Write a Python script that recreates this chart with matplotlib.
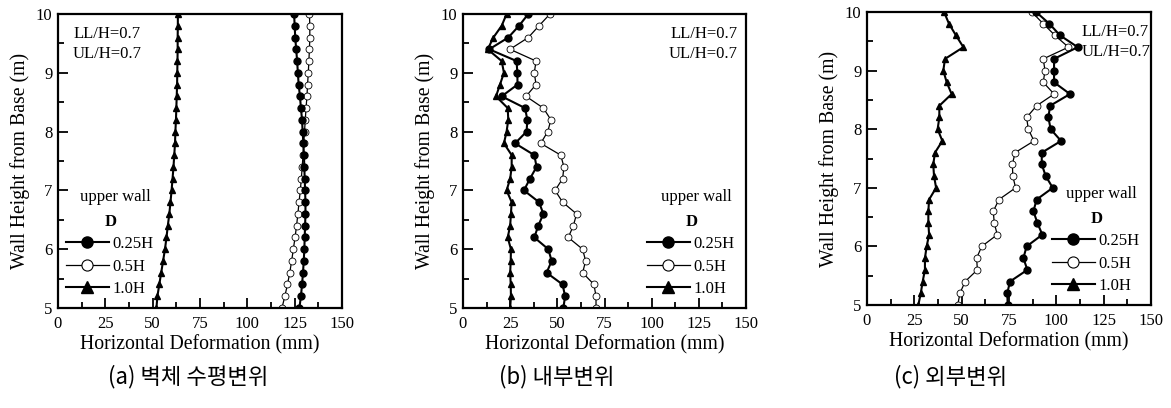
import numpy as np
import matplotlib
matplotlib.use('Agg')
import matplotlib.pyplot as plt
from matplotlib.lines import Line2D

plt.rcParams['font.family'] = ['Liberation Serif', 'DejaVu Serif']

# 높이 (m)
height = [10.0, 9.8, 9.6, 9.4, 9.2, 9.0, 8.8, 8.6, 8.4, 8.2, 8.0, 7.8, 7.6,
          7.4, 7.2, 7.0, 6.8, 6.6, 6.4, 6.2, 6.0, 5.8, 5.6, 5.4, 5.2, 5.0]

# (a) 벽체 수평변위
a_025 = [124.7, 125.0, 125.3, 125.8, 126.3, 126.7, 127.1, 127.8, 128.3, 128.9, 129.2, 129.6, 129.9,
         130.1, 130.3, 130.5, 130.7, 130.7, 130.5, 130.3, 130.1, 129.8, 129.4, 128.9, 128.3, 127.5]
a_05 = [132.8, 133.0, 133.0, 132.8, 132.5, 132.2, 131.8, 131.5, 131.0, 130.6, 130.2, 129.8, 129.4,
        129.0, 128.5, 128.0, 127.3, 126.7, 126.0, 125.2, 124.3, 123.4, 122.4, 121.2, 119.8, 118.3]
a_10 = [63.3, 63.3, 63.2, 63.2, 63.1, 63.0, 62.9, 62.7, 62.5, 62.3, 62.0, 61.8, 61.4,
        61.0, 60.5, 60.0, 59.4, 58.8, 58.0, 57.3, 56.5, 55.5, 54.5, 53.5, 52.5, 52.0]

# (b) 내부변위
b_025 = [34.6, 29.7, 24.0, 13.9, 28.4, 28.8, 28.9, 20.5, 32.9, 34.1, 33.7, 27.6, 37.8,
         39.0, 35.5, 32.3, 40.3, 42.6, 39.9, 37.8, 45.2, 47.0, 44.3, 52.8, 54.1, 53.2]
b_05 = [46.1, 40.3, 34.6, 24.9, 38.7, 37.8, 38.7, 33.4, 42.6, 46.6, 44.9, 41.2, 51.8,
        53.5, 52.8, 48.8, 52.8, 60.2, 58.5, 55.8, 63.4, 65.0, 63.4, 69.4, 70.5, 70.5]
b_10 = [23.1, 20.5, 16.1, 13.1, 20.5, 21.7, 19.6, 17.5, 23.7, 24.0, 23.1, 21.7, 25.8,
        25.8, 25.0, 23.1, 25.8, 25.4, 25.0, 23.7, 25.4, 25.3, 25.0, 25.3, 25.4, 25.0]

# (c) 외부변위
c_025 = [89.3, 96.3, 102.0, 111.3, 98.8, 98.8, 98.8, 107.2, 96.7, 95.8, 97.0, 102.5, 92.3,
         92.3, 94.4, 98.1, 89.6, 87.9, 90.0, 92.6, 84.3, 82.6, 84.7, 75.5, 74.1, 74.3]
c_05 = [87.0, 93.1, 99.3, 106.4, 93.1, 94.0, 93.1, 98.8, 89.6, 84.3, 85.2, 88.2, 78.2,
        76.8, 77.0, 78.5, 69.7, 66.7, 67.2, 68.8, 60.6, 57.9, 58.3, 51.8, 49.1, 47.9]
c_10 = [40.7, 43.3, 47.0, 50.9, 41.2, 40.3, 42.1, 44.7, 38.2, 38.2, 37.3, 39.8, 35.9,
        35.0, 35.4, 36.5, 32.8, 32.4, 32.4, 32.8, 31.5, 30.6, 30.6, 29.4, 28.4, 27.1]

captions = ['(a) 벽체 수평변위', '(b) 내부변위', '(c) 외부변위']
legend_labels = ['0.25H', '0.5H', '1.0H']

# 픽셀 단위 배치
panels = [
    dict(d=(a_025, a_05, a_10), rect=[58, 14, 284, 294], note=(0.053, 'left'),
         leg_x=0.032, cap_x=188),
    dict(d=(b_025, b_05, b_10), rect=[463, 14, 283, 294], note=(0.97, 'right'),
         leg_x=0.654, cap_x=557),
    dict(d=(c_025, c_05, c_10), rect=[867, 12, 284, 293], note=(0.757, 'left'),
         leg_x=0.655, cap_x=951),
]

W, H = 1171, 408
fig = plt.figure(figsize=(W / 100, H / 100), dpi=100)

st025 = dict(color='k', marker='o', ms=5, lw=1.5, mfc='k', mec='k')
st05 = dict(color='k', marker='o', ms=5, lw=0.9, mfc='white', mec='k', mew=0.6)
st10 = dict(color='k', marker='^', ms=5, lw=1.5, mfc='k', mec='k')

for i, p in enumerate(panels):
    l, t, w, h = p['rect']
    ax = fig.add_axes([l / W, (H - t - h) / H, w / W, h / H])
    s025, s05, s10 = p['d']
    ax.plot(s10, height, **st10)
    ax.plot(s05, height, **st05)
    ax.plot(s025, height, **st025)

    ax.set_xlim(0, 150)
    ax.set_ylim(5, 10)
    ax.set_xticks(np.arange(0, 151, 25))
    ax.set_xticks(np.arange(0, 151, 12.5), minor=True)
    ax.set_yticks(np.arange(5, 10.1, 1))
    ax.set_yticks(np.arange(5, 10.1, 0.5), minor=True)
    ax.tick_params(which='both', direction='in', top=False, right=False,
                   labelsize=12, width=1.3)
    ax.tick_params(axis='x', pad=6)
    ax.tick_params(axis='y', pad=4)
    ax.tick_params(which='major', length=7)
    ax.tick_params(which='minor', length=4)
    for sp in ax.spines.values():
        sp.set_linewidth(1.6)
    ax.set_xlabel('Horizontal Deformation (mm)', fontsize=14.2, labelpad=2)
    ax.set_ylabel('Wall Height from Base (m)', fontsize=14.2, labelpad=4)

    nx, ha = p['note']
    ax.text(nx, 0.958, 'LL/H=0.7\nUL/H=0.7', transform=ax.transAxes, ha=ha, va='top',
            fontsize=12, linespacing=1.3)

    lx = p['leg_x']
    ax.text(lx + 0.045, 0.378, 'upper wall', transform=ax.transAxes, ha='left',
            va='center', fontsize=12)
    ax.text(lx + 0.155, 0.293, 'D', transform=ax.transAxes, ha='center', va='center',
            fontsize=12, fontweight='bold')
    handles = [Line2D([], [], **dict(st025, ms=8)),
               Line2D([], [], **dict(st05, ms=8, mew=0.8)),
               Line2D([], [], **dict(st10, ms=8))]
    ax.legend(handles, legend_labels, loc='lower left', bbox_to_anchor=(lx - 0.005, 0.037),
              frameon=False, fontsize=12, handlelength=2.6, handletextpad=0.2,
              labelspacing=0.39, borderpad=0, borderaxespad=0)

    fig.text(p['cap_x'] / W, 1 - 377 / H, captions[i], ha='center', va='center',
             fontsize=16, fontweight='light',
             family=['Noto Sans CJK KR', 'DejaVu Sans'])

fig.savefig('out.png', dpi=100)
